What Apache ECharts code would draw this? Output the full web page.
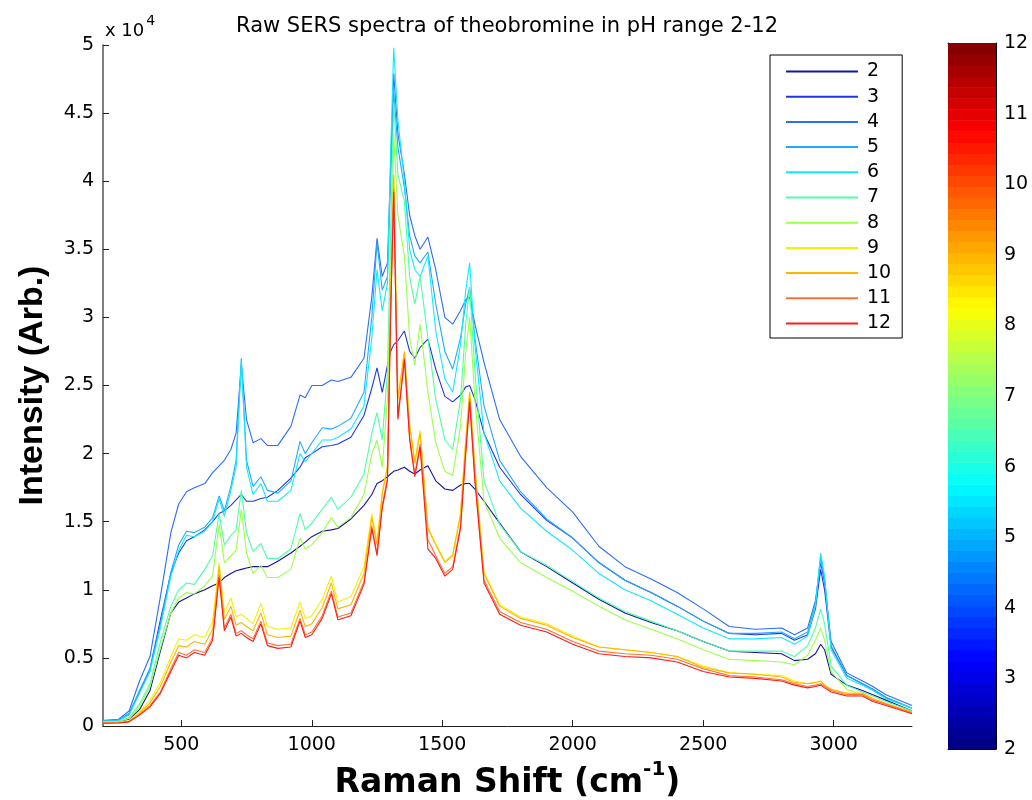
<!DOCTYPE html>
<html>
<head>
<meta charset="utf-8">
<title>Raw SERS spectra of theobromine</title>
<script src="https://cdn.jsdelivr.net/npm/echarts@6/dist/echarts.min.js"></script>
<style>
  html, body { margin: 0; padding: 0; background: #fff; }
  #chart { width: 1032px; height: 800px; }
</style>
</head>
<body>
<div id="chart"></div>
<script>
// raman shift (cm-1), shared by all spectra
const shift = [200,260,300,340,380,420,460,490,520,550,
  590,620,645,665,690,710,730,750,775,805,
  830,870,920,955,975,1000,1040,1075,1100,1150,
  1200,1230,1250,1270,1290,1302,1314,1330,1355,1375,
  1395,1415,1445,1475,1510,1540,1570,1590,1605,1625,
  1660,1720,1800,1900,2000,2100,2200,2300,2400,2500,
  2600,2700,2800,2850,2900,2930,2950,2965,2990,3050,
  3110,3150,3200,3300];

const ph2 = [300,350,500,1200,2600,5500,8300,9100,9400,9700,
  10000,10300,10500,10900,11200,11400,11500,11600,11700,11700,
  11700,12100,12700,13200,13500,13900,14300,14400,14500,15200,
  16200,17000,17800,18000,18300,18500,18700,18800,19000,18700,
  18500,18800,19100,18000,17400,17300,17700,17800,17800,17400,
  16500,14900,12800,11700,10500,9300,8300,7600,7000,6200,
  5500,5400,5300,4800,4900,5300,6000,5600,3800,3000,
  2600,2300,1900,1100];

const ph3 = [350,450,900,2500,4200,7800,11200,12700,13600,13900,
  14400,15000,15600,15800,16200,16600,17000,16500,16500,16700,
  16800,17300,18200,19000,19700,20000,20500,20600,20700,21200,
  22800,24800,26300,24500,26500,27500,28000,28300,29000,27500,
  27000,27800,28400,26200,24200,23800,24300,24900,25000,24000,
  21500,19000,17000,15100,13800,12000,10700,9800,8800,7700,
  6800,6700,6800,6300,6700,8600,11500,10000,5800,3700,
  3100,2700,2100,1300];

const ph4 = [400,500,1100,3300,5100,9500,14200,16300,17200,17500,
  17800,18600,19100,19500,20300,21500,26500,22500,20800,21100,
  20600,20600,22000,24300,24100,25000,25000,25400,25300,25600,
  27000,31500,35800,33000,34000,41000,47900,43500,40500,37500,
  36000,35000,35900,33500,30000,29500,30500,31300,31500,29500,
  26700,22500,19800,17500,15700,13200,11700,10800,9800,8600,
  7300,7100,7200,6700,7200,9200,12000,10500,6200,3900,
  3300,2900,2300,1500];

const ph5 = [400,450,900,2600,4200,7500,11300,13300,14300,14200,
  14600,15300,16900,15800,17600,19500,27000,19500,17600,18300,
  17300,17100,18000,20900,20000,20800,21900,21800,22000,22600,
  24500,30000,35500,32000,33000,40000,46500,42500,39500,36000,
  34500,34000,34800,31000,27500,26200,28500,31000,32200,28500,
  23500,19500,17200,15200,13800,12000,10700,9800,8800,7700,
  6800,6800,6900,6400,6900,9000,12400,10800,5900,3700,
  3100,2700,2100,1300];

const ph6 = [350,400,800,2400,4000,7200,11000,12900,14000,13900,
  14300,15000,16700,15400,17300,19000,26800,19000,17000,17800,
  16500,16500,17300,20000,19400,20000,21000,21000,21200,21800,
  23500,28500,33500,30500,32500,42000,49800,44500,40000,35000,
  33500,33000,34500,29000,25500,24500,28000,32000,34000,28000,
  21500,18000,16000,14300,12900,11200,10000,9200,8200,7200,
  6400,6400,6500,6000,6600,8800,12700,11000,5600,3500,
  3000,2600,2000,1300];

const ph7 = [300,350,600,1600,3100,6200,8800,10000,10500,10400,
  11500,12500,15600,13300,14000,14400,17300,14200,12800,13400,
  12300,12300,13000,15600,14400,14900,15900,16800,15900,16800,
  18500,21500,23000,21000,26000,36000,45800,40500,38500,33000,
  31000,33000,28500,24000,21000,20300,24000,29500,32200,26000,
  18000,14800,12800,11800,10600,9400,8400,7700,7000,6200,
  5500,5500,5500,5100,5900,7200,8600,7500,4400,3000,
  2500,2200,1800,1100];

const ph8 = [300,330,550,1400,2900,5700,8300,9400,9800,9700,
  10300,11000,14800,12000,12500,12900,15900,12700,11200,11800,
  10900,10900,11500,13800,13000,13300,14200,15300,14600,15300,
  17000,20000,21000,19000,24000,33000,43500,37500,34500,28500,
  26500,29500,24500,20800,18700,18400,22000,27500,30000,24000,
  16500,13800,12000,10900,9900,8800,7800,7100,6400,5600,
  4900,4800,4700,4500,5200,6300,7200,6300,4000,2700,
  2300,2000,1600,1000];

const ph9 = [240,270,380,1050,1900,3200,5100,6400,6300,6700,
  6500,7700,12000,8300,9400,8000,8200,7900,7500,9000,
  7300,7100,7200,9100,7900,8100,9300,11000,9100,9500,
  11700,15600,13600,17200,19200,31000,40300,24000,27500,22200,
  19500,21700,14600,13400,12100,12600,15600,21000,24500,19000,
  11300,8900,8000,7500,6600,5800,5600,5400,5100,4400,
  3900,3800,3700,3300,3100,3200,3300,3000,2700,2400,
  2400,2000,1650,1000];

const ph10 = [230,260,350,950,1700,2900,4700,5900,5800,6200,
  6000,7100,11700,7800,8800,7400,7600,7300,7000,8300,
  6700,6500,6600,8500,7300,7500,8700,10500,8600,8900,
  11200,15300,13300,17000,19000,31000,40500,24000,27500,22000,
  19300,21500,14500,13300,12000,12500,15500,21000,24500,19000,
  11200,8800,7900,7400,6500,5800,5600,5400,5100,4300,
  3900,3800,3600,3200,3100,3200,3300,3000,2700,2400,
  2400,2000,1650,1000];

const ph11 = [220,240,320,850,1500,2500,4200,5400,5200,5600,
  5400,6500,11100,7200,8200,6800,7000,6700,6400,7700,
  6100,5900,6000,7900,6700,6900,8100,9900,8000,8300,
  10600,14700,12700,16200,18200,30200,39400,22700,27000,21200,
  18500,20700,13700,12500,11200,11700,14700,20200,24000,18200,
  10700,8400,7600,7100,6200,5500,5300,5200,4900,4200,
  3700,3600,3400,3100,2900,3000,3100,2900,2600,2300,
  2300,1900,1600,950];

const ph12 = [200,220,300,800,1400,2400,4000,5200,5000,5400,
  5200,6300,10900,7000,8000,6600,6800,6500,6200,7500,
  5900,5700,5800,7700,6500,6700,7900,9700,7800,8100,
  10400,14500,12500,16000,18000,30000,39200,22500,26900,21000,
  18300,20500,13000,12300,11000,11500,14500,20000,23800,18000,
  10500,8200,7400,6900,6000,5300,5100,5000,4700,4000,
  3600,3500,3300,3000,2800,2900,3000,2800,2500,2200,
  2200,1800,1500,900];

const phNames = ['2','3','4','5','6','7','8','9','10','11','12'];
const spectra = [ph2, ph3, ph4, ph5, ph6, ph7, ph8, ph9, ph10, ph11, ph12];
const lineColors = ['#14149c','#1c36e6','#2a6cff','#20aaff','#10eaff','#4cffaa',
  '#9cff48','#f2f200','#ffb400','#ff7030','#ff1a1a'];
const xTickValues = [500, 1000, 1500, 2000, 2500, 3000];

// jet colormap for the colorbar
function jet(t) {
  const c = v => Math.round(255 * Math.max(0, Math.min(1, v)));
  const r = c(1.5 - Math.abs(4 * t - 3));
  const g = c(1.5 - Math.abs(4 * t - 2));
  const b = c(1.5 - Math.abs(4 * t - 1));
  return 'rgb(' + r + ',' + g + ',' + b + ')';
}
const barLevels = [];
for (let i = 0; i < 64; i++) {
  barLevels.push([2 + i * 10 / 64, 2 + (i + 1) * 10 / 64, (i + 0.5) / 64]);
}

const font = 'DejaVu Sans';
const chart = echarts.init(document.getElementById('chart'));

const lineSeries = spectra.map((vals, i) => ({
  name: phNames[i],
  type: 'line',
  xAxisIndex: 0,
  yAxisIndex: 0,
  symbol: 'none',
  showSymbol: false,
  lineStyle: { width: 1.1, color: lineColors[i] },
  itemStyle: { color: lineColors[i] },
  data: shift.map((x, k) => [x, vals[k]])
}));

const option = {
  animation: false,
  backgroundColor: '#fff',
  graphic: [
    {
      type: 'text', x: 507, y: 27,
      style: {
        text: 'Raw SERS spectra of theobromine in pH range 2-12',
        font: '21px "DejaVu Sans"', fill: '#000',
        textAlign: 'center', textVerticalAlign: 'middle'
      }
    },
    {
      type: 'text', x: 105, y: 14,
      style: {
        text: '{a|x 10}{s|4}',
        rich: {
          a: { fontSize: 18, fontFamily: font, color: '#000', verticalAlign: 'bottom', lineHeight: 26 },
          s: { fontSize: 14, fontFamily: font, color: '#000', verticalAlign: 'top', lineHeight: 26, padding: [0, 0, 0, 2] }
        }
      }
    }
  ],
  grid: [
    { left: 103, top: 45, right: 120, bottom: 74, containLabel: false, outerBoundsMode: 'none' },
    { left: 948, top: 43, width: 48, bottom: 51, containLabel: false, outerBoundsMode: 'none' }
  ],
  legend: {
    data: phNames,
    orient: 'vertical',
    left: 770,
    top: 55,
    itemWidth: 72,
    itemHeight: 14,
    itemGap: 6.2,
    padding: [7, 11, 5, 15],
    borderColor: '#000',
    borderWidth: 1,
    backgroundColor: '#fff',
    lineStyle: { width: 2 },
    itemStyle: { opacity: 0 },
    textStyle: { fontSize: 19, fontFamily: font, color: '#000', padding: [0, 0, 0, 4] }
  },
  xAxis: [
    {
      gridIndex: 0, type: 'value', min: 200, max: 3300,
      name: '{b|Raman Shift (cm}{s|-1}{b|)}',
      nameLocation: 'middle', nameGap: 21,
      nameTextStyle: {
        rich: {
          b: { fontSize: 33, fontWeight: 'bold', fontFamily: font, color: '#000', lineHeight: 40, verticalAlign: 'bottom' },
          s: { fontSize: 20, fontWeight: 'bold', fontFamily: font, color: '#000', lineHeight: 40, verticalAlign: 'top' }
        }
      },
      axisLine: { show: true, onZero: false, lineStyle: { color: '#222', width: 1 } },
      axisTick: { show: true, inside: true, length: 6, customValues: xTickValues, lineStyle: { color: '#222' } },
      axisLabel: { customValues: xTickValues, fontSize: 19, fontFamily: font, color: '#000', margin: 10, formatter: v => String(v) },
      splitLine: { show: false }
    },
    {
      gridIndex: 1, type: 'value', min: 0, max: 1, position: 'bottom',
      axisLine: { show: true, onZero: false, lineStyle: { color: '#000' } },
      axisTick: { show: false }, axisLabel: { show: false }, splitLine: { show: false }
    },
    {
      gridIndex: 1, type: 'value', min: 0, max: 1, position: 'top',
      axisLine: { show: true, onZero: false, lineStyle: { color: '#000' } },
      axisTick: { show: false }, axisLabel: { show: false }, splitLine: { show: false }
    }
  ],
  yAxis: [
    {
      gridIndex: 0, type: 'value', min: 0, max: 50000, interval: 5000,
      name: 'Intensity (Arb.)',
      nameLocation: 'middle', nameGap: 53,
      nameTextStyle: { fontSize: 34, fontWeight: 'bold', fontFamily: 'Liberation Sans', color: '#000' },
      axisLine: { show: true, onZero: false, lineStyle: { color: '#555', width: 1.5 } },
      axisTick: { show: true, inside: true, length: 6, lineStyle: { color: '#222' } },
      axisLabel: {
        fontSize: 19, fontFamily: font, color: '#000', margin: 9,
        formatter: v => String(v / 10000)
      },
      splitLine: { show: false }
    },
    {
      gridIndex: 1, type: 'value', min: 2, max: 12, interval: 1, position: 'left',
      axisLine: { show: true, onZero: false, lineStyle: { color: '#000' } },
      axisTick: { show: true, inside: true, length: 6, lineStyle: { color: '#000' } },
      axisLabel: { show: false }, splitLine: { show: false }
    },
    {
      gridIndex: 1, type: 'value', min: 2, max: 12, interval: 1, position: 'right',
      axisLine: { show: true, onZero: false, lineStyle: { color: '#000' } },
      axisTick: { show: true, inside: true, length: 6, lineStyle: { color: '#000' } },
      axisLabel: { fontSize: 19, fontFamily: font, color: '#000', margin: 8 },
      splitLine: { show: false }
    }
  ],
  series: lineSeries.concat([{
    name: 'colorbar',
    type: 'custom',
    xAxisIndex: 1,
    yAxisIndex: 1,
    z: 1,
    silent: true,
    encode: { x: 2, y: [0, 1] },
    data: barLevels,
    renderItem: function (params, api) {
      const lo = api.value(0), hi = api.value(1), t = api.value(2);
      const a = api.coord([0, lo]);
      const b = api.coord([1, hi]);
      return {
        type: 'rect',
        shape: { x: a[0], y: b[1], width: b[0] - a[0], height: a[1] - b[1] + 0.6 },
        style: { fill: jet(t) }
      };
    }
  }])
};

chart.setOption(option);
</script>
</body>
</html>
